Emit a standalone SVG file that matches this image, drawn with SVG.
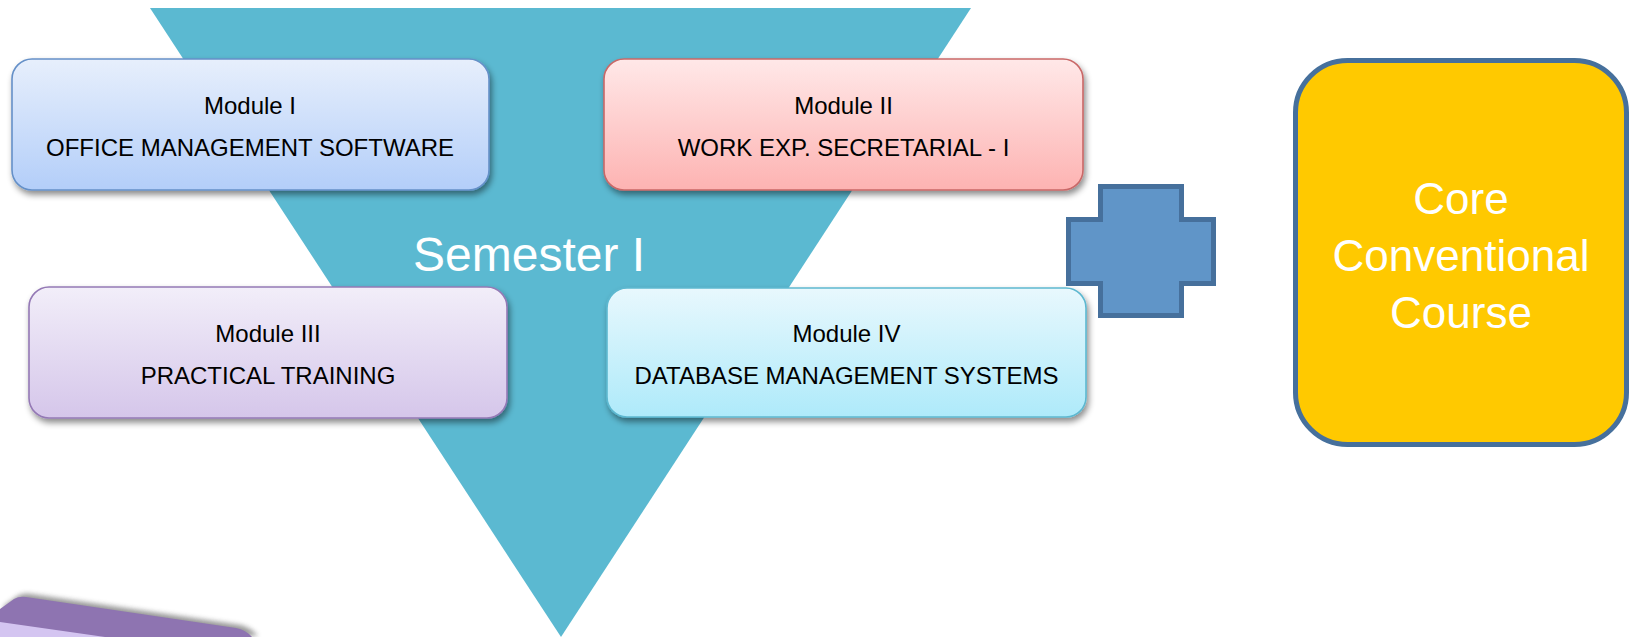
<svg xmlns="http://www.w3.org/2000/svg" width="1629" height="637" viewBox="0 0 1629 637">
  <style>
    .mod { stroke-width: 1.6; filter: url(#drop); }
    .mtxt { font-family: "Liberation Sans", Arial, sans-serif; font-size: 24px; fill: #000; text-anchor: middle; }
    .core { font-family: "Liberation Sans", Arial, sans-serif; font-size: 44px; fill: #fff; text-anchor: middle; }
    .sem { font-family: "Liberation Sans", Arial, sans-serif; font-size: 48px; fill: #fff; }
  </style>
  <defs>
    <filter id="drop" x="-10%" y="-20%" width="120%" height="150%">
      <feDropShadow dx="2" dy="4" stdDeviation="3" flood-color="#000" flood-opacity="0.45"/>
    </filter>
    <filter id="soft" x="-10%" y="-50%" width="120%" height="200%">
      <feGaussianBlur stdDeviation="2.5"/>
    </filter>
    <linearGradient id="gBlue" x1="0" y1="0" x2="0" y2="1">
      <stop offset="0" stop-color="#E7EFFC"/>
      <stop offset="1" stop-color="#B3CEF9"/>
    </linearGradient>
    <linearGradient id="gRed" x1="0" y1="0" x2="0" y2="1">
      <stop offset="0" stop-color="#FFE8E8"/>
      <stop offset="1" stop-color="#FDB3B2"/>
    </linearGradient>
    <linearGradient id="gPurple" x1="0" y1="0" x2="0" y2="1">
      <stop offset="0" stop-color="#F2EEF9"/>
      <stop offset="1" stop-color="#D5C6EA"/>
    </linearGradient>
    <linearGradient id="gCyan" x1="0" y1="0" x2="0" y2="1">
      <stop offset="0" stop-color="#E8F8FD"/>
      <stop offset="1" stop-color="#AEEAFA"/>
    </linearGradient>
  </defs>

  <!-- semester funnel -->
  <g id="semester">
    <polygon points="150,8 971,8 561,637" fill="#5BB9D1"/>
    <text class="sem" x="413" y="271">Semester I</text>
  </g>

  <!-- partial slab at lower left -->
  <g id="slab">
    <path d="M0,607 L14,597 Q19,594 26,595 L236,626 Q246,628 254,637 L0,637 Z" fill="#444" opacity="0.55" filter="url(#soft)" transform="translate(4,-1)"/>
    <path d="M0,609 L14,599 Q19,596 26,597 L236,628 Q246,630 252,637 L0,637 Z" fill="#8E74B1"/>
    <path d="M0,622 L105,637 L0,637 Z" fill="#D4C5F1"/>
  </g>

  <g id="module1">
    <rect class="mod" x="12" y="59" width="477" height="131" rx="20" fill="url(#gBlue)" stroke="#6590C8"/>
    <text class="mtxt" x="250" y="114">Module I</text>
    <text class="mtxt" x="250" y="156">OFFICE MANAGEMENT SOFTWARE</text>
  </g>

  <g id="module2">
    <rect class="mod" x="604" y="59" width="479" height="131" rx="20" fill="url(#gRed)" stroke="#C96867"/>
    <text class="mtxt" x="843.5" y="114">Module II</text>
    <text class="mtxt" x="843.5" y="156">WORK EXP. SECRETARIAL - I</text>
  </g>

  <g id="module3">
    <rect class="mod" x="29" y="287" width="478" height="131" rx="20" fill="url(#gPurple)" stroke="#9479B5"/>
    <text class="mtxt" x="268" y="342">Module III</text>
    <text class="mtxt" x="268" y="384">PRACTICAL TRAINING</text>
  </g>

  <g id="module4">
    <rect class="mod" x="607" y="288" width="479" height="129" rx="20" fill="url(#gCyan)" stroke="#5DB8D0"/>
    <text class="mtxt" x="846.5" y="342">Module IV</text>
    <text class="mtxt" x="846.5" y="384">DATABASE MANAGEMENT SYSTEMS</text>
  </g>

  <!-- plus sign -->
  <g id="plus">
    <path d="M1100.5,186.5 H1181.5 V219.5 H1213.5 V283.5 H1181.5 V315.5 H1100.5 V283.5 H1068.5 V219.5 H1100.5 Z" fill="#6095C8" stroke="#46709C" stroke-width="5"/>
  </g>

  <g id="core">
    <rect x="1295.5" y="60.5" width="331" height="384" rx="52" fill="#FFC900" stroke="#46709C" stroke-width="5"/>
    <text class="core" x="1461" y="214">Core</text>
    <text class="core" x="1461" y="271">Conventional</text>
    <text class="core" x="1461" y="328">Course</text>
  </g>

  <g id="connectors"/>
</svg>
